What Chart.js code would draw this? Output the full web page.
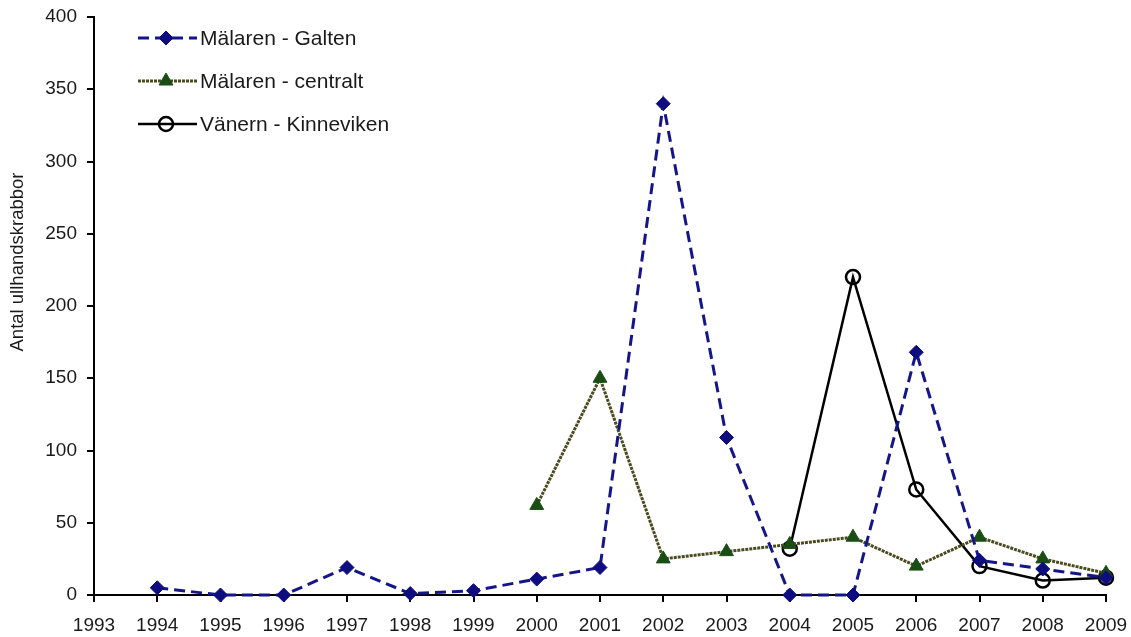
<!DOCTYPE html>
<html>
<head>
<meta charset="utf-8">
<script src="https://cdn.jsdelivr.net/npm/chart.js@4/dist/chart.umd.min.js"></script>
<style>
html,body{margin:0;padding:0;background:#fff;}
#wrap{width:1131px;height:637px;position:relative;}
</style>
</head>
<body>
<div id="wrap"><canvas id="c" width="1131" height="637"></canvas></div>
<script>
const years = ['1993','1994','1995','1996','1997','1998','1999','2000','2001','2002','2003','2004','2005','2006','2007','2008','2009'];
const galten = [null,5,0,0,19,1,3,11,19,340,109,0,0,168,24,18,12];
const centralt = [null,null,null,null,null,null,null,62,150,25,30,35,40,20,40,25,15];
const kinneviken = [null,null,null,null,null,null,null,null,null,null,null,32,220,73,20,10,12];
const seriesNames = ['Mälaren - Galten','Mälaren - centralt','Vänern - Kinneviken'];
const yTitle = 'Antal ullhandskrabbor';
const yTicks = [0,50,100,150,200,250,300,350,400];

const FONT = "'Liberation Sans', Arial, sans-serif";

const overlay = {
  id: 'overlay',
  afterDraw(chart) {
    const ctx = chart.ctx;
    ctx.save();
    ctx.translate(18, 262);
    ctx.rotate(-Math.PI/2);
    ctx.font = "18.5px " + FONT;
    ctx.fillStyle = '#1a1a1a';
    ctx.textAlign = 'center';
    ctx.textBaseline = 'middle';
    ctx.fillText(yTitle, 0, 0);
    ctx.restore();

    const ys = [38, 81, 124];
    chart.data.datasets.forEach((ds, i) => {
      const y = ys[i];
      ctx.save();
      ctx.strokeStyle = ds.borderColor;
      ctx.lineWidth = ds.borderWidth;
      ctx.setLineDash(ds.borderDash || []);
      ctx.beginPath();
      ctx.moveTo(138, y);
      ctx.lineTo(197, y);
      ctx.stroke();
      ctx.setLineDash([]);
      ctx.fillStyle = ds.pointBackgroundColor;
      ctx.strokeStyle = ds.pointBorderColor;
      ctx.lineWidth = ds.pointBorderWidth;
      Chart.helpers.drawPoint(ctx, {
        pointStyle: ds.pointStyle,
        radius: ds.pointRadius,
        rotation: 0,
        borderWidth: ds.pointBorderWidth
      }, 166, y);
      ctx.font = "21px " + FONT;
      ctx.fillStyle = '#1a1a1a';
      ctx.textAlign = 'left';
      ctx.textBaseline = 'middle';
      ctx.fillText(seriesNames[i], 200, y + 1);
      ctx.restore();
    });
  }
};

new Chart(document.getElementById('c'), {
  type: 'line',
  data: {
    labels: years,
    datasets: [
      {
        label: seriesNames[0],
        data: galten,
        borderColor: '#15158a',
        borderWidth: 3,
        borderDash: [11, 6],
        pointStyle: 'rectRot',
        pointRadius: 7,
        pointBackgroundColor: '#0d0d80',
        pointBorderColor: '#0d0d80',
        pointBorderWidth: 1,
        tension: 0,
        clip: false
      },
      {
        label: seriesNames[1],
        data: centralt,
        borderColor: '#4a4a20',
        borderWidth: 3,
        borderDash: [3, 1],
        pointStyle: 'triangle',
        pointRadius: 8,
        pointBackgroundColor: '#1a4d14',
        pointBorderColor: '#1a4d14',
        pointBorderWidth: 1,
        tension: 0,
        clip: false
      },
      {
        label: seriesNames[2],
        data: kinneviken,
        borderColor: '#000000',
        borderWidth: 2.5,
        pointStyle: 'circle',
        pointRadius: 7,
        pointBackgroundColor: 'rgba(255,255,255,0)',
        pointBorderColor: '#000000',
        pointBorderWidth: 2.5,
        tension: 0,
        clip: false
      }
    ]
  },
  options: {
    responsive: false,
    animation: false,
    events: [],
    layout: { padding: { top: 17, right: 25, bottom: 0, left: 0 } },
    plugins: { legend: { display: false }, tooltip: { enabled: false } },
    scales: {
      x: {
        type: 'category',
        offset: false,
        grid: { display: true, drawOnChartArea: false, drawTicks: true, tickLength: 7, color: '#000', lineWidth: 2 },
        border: { display: true, color: '#000', width: 2 },
        ticks: { color: '#1a1a1a', font: { family: FONT, size: 19 }, padding: 12, maxRotation: 0, autoSkip: false },
        afterFit(s) { s.height = 42; s.paddingLeft = 0; s.paddingRight = 0; }
      },
      y: {
        min: 0,
        max: 400,
        afterBuildTicks(s) { s.ticks = yTicks.map(v => ({ value: v })); },
        grid: { display: true, drawOnChartArea: false, drawTicks: true, tickLength: 7, color: '#000', lineWidth: 2 },
        border: { display: true, color: '#000', width: 2 },
        ticks: { color: '#1a1a1a', font: { family: FONT, size: 19 }, padding: 10 },
        afterFit(s) { s.width = 94; s.paddingTop = 0; s.paddingBottom = 0; }
      }
    }
  },
  plugins: [overlay]
});
</script>
</body>
</html>
